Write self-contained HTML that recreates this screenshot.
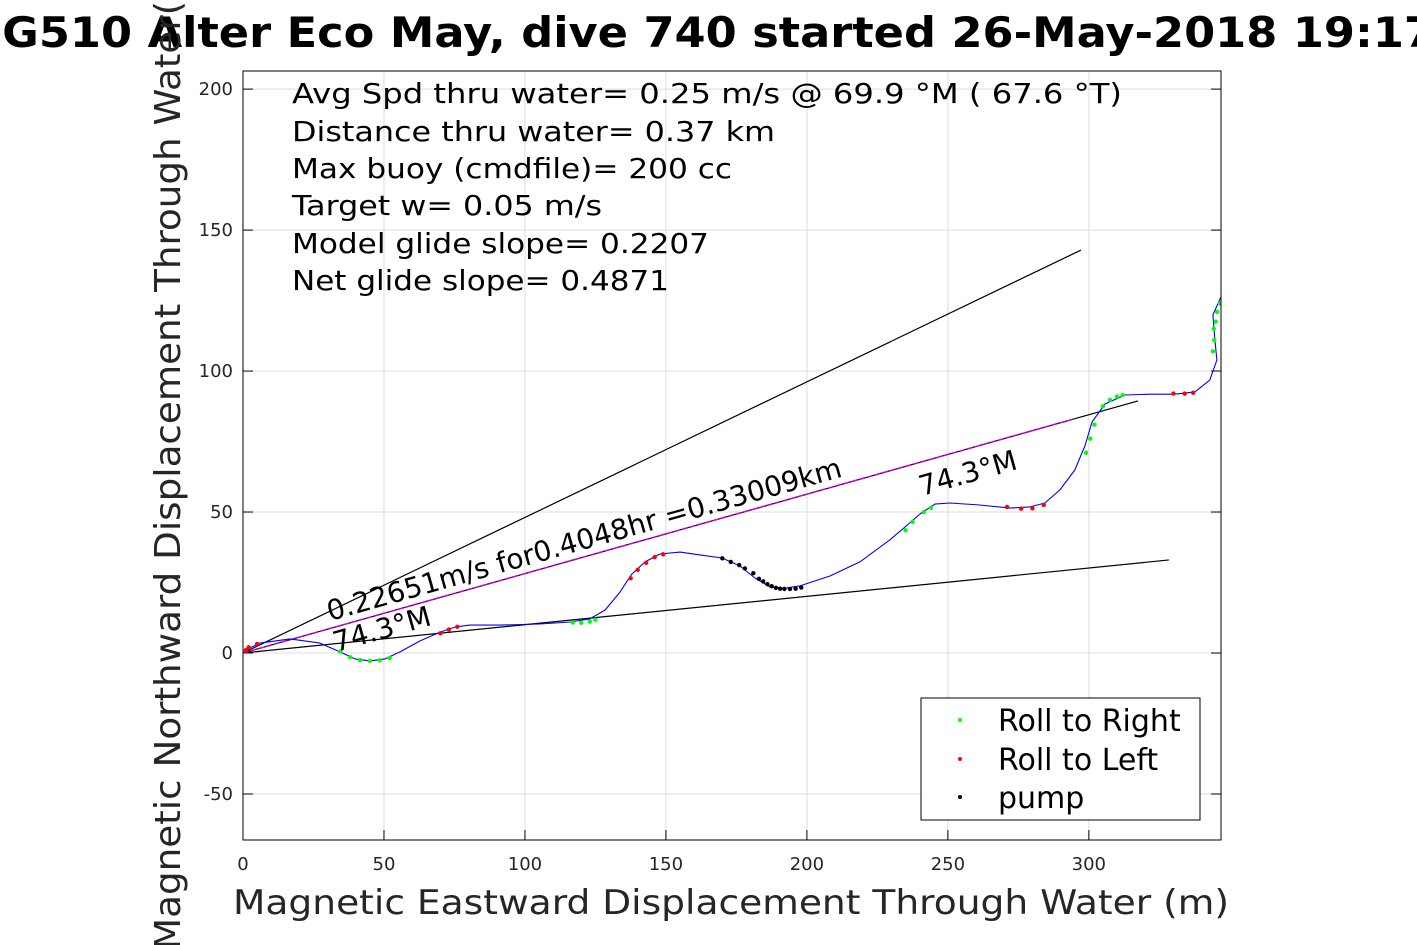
<!DOCTYPE html>
<html><head><meta charset="utf-8"><style>
html,body{margin:0;padding:0;background:#fff;width:1417px;height:945px;overflow:hidden}
svg{display:block;font-family:"DejaVu Sans","Liberation Sans",sans-serif}
</style></head><body>
<svg id="chart" width="1417" height="945" viewBox="0 0 1417 945">
<rect x="0" y="0" width="1417" height="945" fill="#fff"/>
<g id="grid"></g>
<g id="ticks"></g>
<defs><clipPath id="pc"><rect x="243" y="71" width="978" height="769"/></clipPath></defs>
<g id="plot" clip-path="url(#pc)"></g>
<rect x="243" y="71" width="978" height="769" fill="none" stroke="#000" stroke-width="1"/>
<text x="-30" y="47" font-size="42" font-weight="bold" textLength="1465" lengthAdjust="spacingAndGlyphs">SG510 Alter Eco May, dive 740 started 26-May-2018 19:17</text>
<text transform="translate(180,950) rotate(-90)" font-size="36" fill="#262626" textLength="1000" lengthAdjust="spacingAndGlyphs">Magnetic Northward Displacement Through Water(m)</text>
<text x="233" y="914" font-size="34" fill="#262626" textLength="996" lengthAdjust="spacingAndGlyphs">Magnetic Eastward Displacement Through Water (m)</text>
<g font-size="28">
<text x="292" y="103" textLength="830" lengthAdjust="spacingAndGlyphs">Avg Spd thru water=  0.25 m/s @  69.9 °M ( 67.6 °T)</text>
<text x="292" y="141" textLength="483" lengthAdjust="spacingAndGlyphs">Distance thru water=  0.37 km</text>
<text x="292" y="178" textLength="440" lengthAdjust="spacingAndGlyphs">Max buoy (cmdfile)= 200 cc</text>
<text x="292" y="215" textLength="310" lengthAdjust="spacingAndGlyphs">Target w= 0.05 m/s</text>
<text x="292" y="253" textLength="417" lengthAdjust="spacingAndGlyphs">Model glide slope= 0.2207</text>
<text x="292" y="290" textLength="377" lengthAdjust="spacingAndGlyphs">Net glide slope= 0.4871</text>
</g>
<g id="legend">
<rect x="921" y="698" width="279" height="122" fill="#fff" stroke="#000" stroke-width="1"/>
<circle cx="960" cy="720" r="2" fill="#0f0"/>
<text x="998" y="731" font-size="30">Roll to Right</text>
<circle cx="960" cy="759" r="2" fill="#f00"/>
<text x="998" y="770" font-size="30">Roll to Left</text>
<circle cx="960" cy="797" r="2" fill="#000"/>
<text x="998" y="808" font-size="30">pump</text>
</g>
</svg>
<script>
const xTicks=[0,50,100,150,200,250,300];
const yTicks=[-50,0,50,100,150,200];
const trackX=[0,2.5,6.0,16.7,27.3,34.4,39.7,45.0,50.4,55.7,62.8,69.9,75.2,80.5,91.1,105.3,116.0,123.0,128.4,133.7,137.9,142.6,147.9,155.0,162.1,169.9,176.2,181.6,186.9,192.2,197.5,208.2,218.8,229.4,234.8,240.1,245.4,250.7,261.3,272.0,279.1,284.4,289.7,295.0,298.6,301.1,305.7,312.8,321.6,330.5,337.6,342.9,345.4,344.7,344.0,347.2];
const trackY=[0,1.8,3.5,5.0,3.5,0.4,-2.1,-2.8,-2.1,0.4,4.3,7.4,9.2,9.9,9.9,10.3,11.0,12.1,15.2,21.6,28.0,32.3,35.1,35.8,34.8,33.7,30.9,26.6,23.4,23.0,23.8,27.3,32.3,40.1,44.7,49.3,52.8,53.2,52.5,51.4,51.8,53.2,57.8,64.9,73.4,81.9,88.3,91.5,91.8,91.8,92.6,96.8,103.9,111.0,119.9,127.0];
const rightX=[34.5,38,41.5,45,48.5,52,117,120,123,125,235,237.5,241.5,244,299,300.5,302,305,307.5,310,312,344,344.5,344.3,345,345.5,346.5];
const rightY=[0.5,-1.5,-2.5,-2.8,-2.6,-1.8,10.8,10.7,11.1,11.8,43.5,46.5,50,51.5,71,76,81,87.5,89.8,91,91.5,107,111,115,117.5,121,124];
const leftX=[1,2,5,70,73,76,137.5,140,143,146,149,271,276,280,284,330,334,337];
const leftY=[1,2,3.2,7,8.3,9.3,26.5,29.5,32,34,35,51.8,51.2,51.3,52.5,92,92,92.3];
const pumpX=[170,173,176,178,181,183,184.5,186,187.5,189,190.5,192,194,196,198];
const pumpY=[33.6,32.3,31.2,30,28.3,26.3,25.4,24.4,23.7,23.1,22.8,22.7,22.7,22.8,23.2];
const headingLineEnd=[[297.2,142.9],[328.4,33.0]];
const netLineEnd=[317.4,89.4];
const ns="http://www.w3.org/2000/svg";
const X0=243,Y0=653,S=2.8195;
function sx(v){return X0+v*S}
function sy(v){return Y0-v*S}
function mk(tag,attrs,parent){const e=document.createElementNS(ns,tag);for(const k in attrs)e.setAttribute(k,attrs[k]);parent.appendChild(e);return e}
const grid=document.getElementById('grid'),ticks=document.getElementById('ticks'),plot=document.getElementById('plot');
xTicks.forEach(t=>{
 const l=mk('line',{x1:sx(t),x2:sx(t),y1:71,y2:840,stroke:'#dcdcdc','stroke-width':1},grid);
 
 
 const tl=mk('text',{x:sx(t),y:870,'font-size':18,'text-anchor':'middle',fill:'#262626'},ticks);
 tl.textContent=t;
 
 
 const tk=mk('line',{x1:sx(t),x2:sx(t),y1:840,y2:830,stroke:'#000'},ticks);
 
 
});
yTicks.forEach(t=>{
 const l=mk('line',{x1:243,x2:1221,y1:sy(t),y2:sy(t),stroke:'#dcdcdc','stroke-width':1},grid);
 
 
 const tl=mk('text',{x:233,y:sy(t)+6,'font-size':18,'text-anchor':'end',fill:'#262626'},ticks);
 tl.textContent=t;
 
 
 const tk=mk('line',{x1:243,x2:253,y1:sy(t),y2:sy(t),stroke:'#000'},ticks);
 
 
 const tk2=mk('line',{x1:1211,x2:1221,y1:sy(t),y2:sy(t),stroke:'#000'},ticks);
 
 
});
headingLineEnd.forEach(p=>{
 const l=mk('line',{x1:sx(0),y1:sy(0),x2:sx(p[0]),y2:sy(p[1]),stroke:'#000','stroke-width':1.2},plot);
 
 
});
const nl=mk('line',{x1:sx(0),y1:sy(0),x2:sx(netLineEnd[0]),y2:sy(netLineEnd[1]),stroke:'#000','stroke-width':1.2},plot);


const ml=mk('line',{x1:sx(0),y1:sy(0),x2:sx(netLineEnd[0]*0.93),y2:sy(netLineEnd[1]*0.93),stroke:'#d000d0','stroke-width':1.5,'stroke-dasharray':'6 2'},plot);


let d='';trackX.forEach((x,i)=>{d+=(i?'L':'M')+sx(x).toFixed(1)+','+sy(trackY[i]).toFixed(1)});
const tr=mk('path',{d:d,fill:'none',stroke:'#00f','stroke-width':1.1,'stroke-linejoin':'round'},plot);


function pts(xs,ys,col,name){xs.forEach((x,i)=>{const c=mk('circle',{cx:sx(x),cy:sy(ys[i]),r:2.2,fill:col},plot);
 
 });}
pts(rightX,rightY,'#0f0','roll-right-point');
pts(leftX,leftY,'#f00','roll-left-point');
pts(pumpX,pumpY,'#000','pump-point');
const ang=-Math.atan(netLineEnd[1]/netLineEnd[0])*180/Math.PI;
const t1=mk('text',{transform:`translate(330,621) rotate(${ang})`,'font-size':28},plot);
t1.textContent='0.22651m/s for0.4048hr =0.33009km';


const t2=mk('text',{transform:`translate(336,652) rotate(${ang})`,'font-size':28},plot);
t2.textContent='74.3°M';


const t3=mk('text',{transform:`translate(922,496) rotate(${ang})`,'font-size':28},plot);
t3.textContent='74.3°M';


</script>
</body></html>
